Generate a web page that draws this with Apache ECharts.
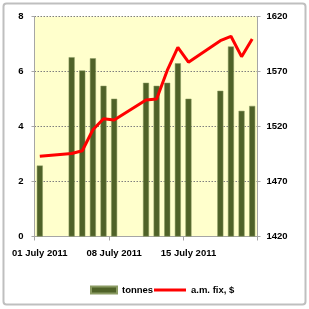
<!DOCTYPE html>
<html>
<head>
<meta charset="utf-8">
<script src="https://cdn.jsdelivr.net/npm/echarts@6/dist/echarts.min.js"></script>
<style>
html,body{margin:0;padding:0;background:#fff;}
#c{width:309px;height:309px;}
</style>
</head>
<body>
<div id="c"></div>
<script>
// Categories: trading days of July 2011 (weekends empty)
var days = ["01 July 2011","02 July 2011","03 July 2011","04 July 2011","05 July 2011","06 July 2011","07 July 2011",
            "08 July 2011","09 July 2011","10 July 2011","11 July 2011","12 July 2011","13 July 2011","14 July 2011",
            "15 July 2011","16 July 2011","17 July 2011","18 July 2011","19 July 2011","20 July 2011","21 July 2011"];
var tonnes = [2.58, null, null, 6.52, 6.04, 6.48, 5.48,
              5.01, null, null, 5.59, 5.48, 5.59, 6.30,
              5.01, null, null, 5.30, 6.91, 4.57, 4.75];
var amFix = [1493, null, null, 1495.5, 1498, 1517, 1527,
             1526, null, null, 1544, 1545, 1571, 1592,
             1578.5, null, null, 1598, 1602, 1583.5, 1599.5];
var leftTicks = {min: 0, max: 8, interval: 2};
var rightTicks = {min: 1420, max: 1620, interval: 50};

var FONT = "'Liberation Sans', Arial, sans-serif";
var chart = echarts.init(document.getElementById('c'), null, {renderer: 'canvas'});
chart.setOption({
  animation: false,
  backgroundColor: '#ffffff',
  graphic: [{
    type: 'rect', shape: {x: 3.5, y: 3.5, width: 302, height: 301, r: 3},
    style: {fill: 'none', stroke: '#bfbfbf', lineWidth: 2}, z: 100
  }],
  grid: {
    left: 34.5, right: 51.5, top: 16.5, bottom: 72.5,
    containLabel: false, outerBoundsMode: 'none',
    show: true, backgroundColor: '#FFFFCC', borderWidth: 0
  },
  legend: [{
    left: 85, top: 280, itemWidth: 26, itemHeight: 7,
    data: [{name: 'tonnes', icon: 'rect'}],
    textStyle: {fontFamily: FONT, fontWeight: 'bold', fontSize: 9.5, color: '#000'}
  }, {
    left: 149, top: 280, itemWidth: 32, itemHeight: 3,
    data: [{name: 'a.m. fix, $', icon: 'rect'}],
    textStyle: {fontFamily: FONT, fontWeight: 'bold', fontSize: 9.5, color: '#000'}
  }],
  xAxis: {
    type: 'category', data: days, boundaryGap: true,
    axisLine: {lineStyle: {color: '#a6a6a6', width: 1}},
    axisTick: {show: true, interval: 6, length: 4, lineStyle: {color: '#a6a6a6'}},
    axisLabel: {interval: 6, margin: 12, color: '#000', fontFamily: FONT, fontWeight: 'bold', fontSize: 9.5},
    splitLine: {show: false}
  },
  yAxis: [{
    type: 'value', min: leftTicks.min, max: leftTicks.max, interval: leftTicks.interval, position: 'left',
    axisLine: {show: true, lineStyle: {color: '#a6a6a6', width: 1}},
    axisTick: {show: true, length: 3, lineStyle: {color: '#a6a6a6'}},
    axisLabel: {margin: 11, color: '#000', fontFamily: FONT, fontWeight: 'bold', fontSize: 9.5},
    splitLine: {show: true, lineStyle: {type: [1.5, 1.5], color: '#7f7f7f', width: 1}}
  }, {
    type: 'value', min: rightTicks.min, max: rightTicks.max, interval: rightTicks.interval, position: 'right',
    axisLine: {show: true, lineStyle: {color: '#a6a6a6', width: 1}},
    axisTick: {show: true, length: 3, lineStyle: {color: '#a6a6a6'}},
    axisLabel: {margin: 9, color: '#000', fontFamily: FONT, fontWeight: 'bold', fontSize: 9.5,
                formatter: function (v) { return String(v); }},
    splitLine: {show: false}
  }],
  series: [{
    name: 'tonnes', type: 'bar', yAxisIndex: 0, data: tonnes, barWidth: 6,
    itemStyle: {color: '#4F6228', borderColor: '#8a9a62', borderWidth: 0.5}
  }, {
    name: 'a.m. fix, $', type: 'line', yAxisIndex: 1, data: amFix, connectNulls: true,
    symbol: 'none', showSymbol: false, smooth: false,
    lineStyle: {color: '#FF0000', width: 3}, itemStyle: {color: '#FF0000'}, z: 5
  }]
});
</script>
</body>
</html>
